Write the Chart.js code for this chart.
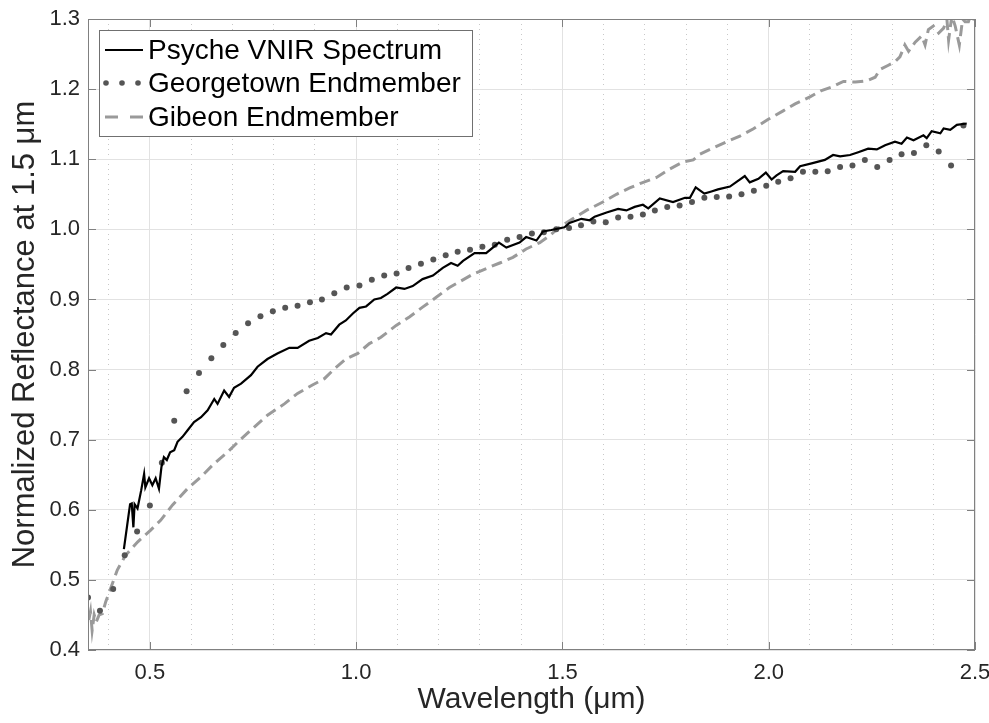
<!DOCTYPE html>
<html>
<head>
<meta charset="utf-8">
<script src="https://cdn.jsdelivr.net/npm/chart.js@4.4.1/dist/chart.umd.min.js"></script>
<style>
  html, body { margin: 0; padding: 0; background: #fff; }
</style>
</head>
<body>
<canvas id="spectra" width="989" height="723"></canvas>
<script>
// Psyche VNIR spectrum (solid black)
var psycheX = [0.437, 0.445, 0.452, 0.456, 0.460, 0.463, 0.470, 0.479, 0.486, 0.489, 0.498, 0.506, 0.514, 0.522, 0.528, 0.534, 0.541, 0.549, 0.559, 0.567,
    0.579, 0.591, 0.607, 0.624, 0.640, 0.656, 0.664, 0.680, 0.692, 0.704, 0.721, 0.745, 0.761, 0.785, 0.809, 0.838, 0.858, 0.886, 0.907, 0.927,
    0.939, 0.959, 0.975, 0.992, 1.008, 1.024, 1.044, 1.060, 1.076, 1.097, 1.117, 1.137, 1.161, 1.186, 1.210, 1.230, 1.246, 1.259, 1.287, 1.315,
    1.346, 1.364, 1.396, 1.412, 1.437, 1.453, 1.473, 1.505, 1.517, 1.546, 1.566, 1.578, 1.607, 1.635, 1.655, 1.675, 1.695, 1.708, 1.736, 1.768,
    1.797, 1.809, 1.823, 1.844, 1.861, 1.877, 1.906, 1.942, 1.954, 1.975, 1.993, 2.007, 2.019, 2.035, 2.064, 2.076, 2.104, 2.136, 2.156, 2.173,
    2.197, 2.217, 2.241, 2.262, 2.282, 2.306, 2.322, 2.335, 2.351, 2.375, 2.383, 2.395, 2.416, 2.424, 2.440, 2.456, 2.480];
var psycheY = [0.544, 0.578, 0.608, 0.609, 0.575, 0.608, 0.602, 0.628, 0.651, 0.632, 0.645, 0.635, 0.645, 0.630, 0.661, 0.675, 0.671, 0.682, 0.685, 0.697,
    0.704, 0.713, 0.725, 0.732, 0.742, 0.758, 0.751, 0.770, 0.761, 0.774, 0.780, 0.792, 0.804, 0.815, 0.823, 0.831, 0.831, 0.841, 0.845, 0.852,
    0.850, 0.864, 0.870, 0.880, 0.888, 0.890, 0.900, 0.902, 0.908, 0.917, 0.915, 0.919, 0.929, 0.934, 0.945, 0.952, 0.948, 0.955, 0.966, 0.966,
    0.981, 0.974, 0.981, 0.989, 0.984, 0.997, 0.999, 1.003, 1.009, 1.015, 1.013, 1.018, 1.024, 1.029, 1.027, 1.032, 1.035, 1.030, 1.044, 1.039,
    1.045, 1.045, 1.060, 1.051, 1.054, 1.057, 1.061, 1.076, 1.067, 1.072, 1.081, 1.071, 1.077, 1.083, 1.082, 1.090, 1.094, 1.099, 1.106, 1.104,
    1.106, 1.110, 1.115, 1.114, 1.120, 1.125, 1.122, 1.131, 1.127, 1.134, 1.130, 1.140, 1.137, 1.144, 1.142, 1.149, 1.151];

// Georgetown endmember (dots)
var georgetownX = [0.350, 0.379, 0.411, 0.439, 0.469, 0.500, 0.529, 0.559, 0.589, 0.619, 0.649, 0.678, 0.708, 0.738, 0.768, 0.798, 0.828, 0.858, 0.888, 0.917,
    0.947, 0.977, 1.008, 1.038, 1.068, 1.098, 1.127, 1.157, 1.187, 1.217, 1.246, 1.276, 1.306, 1.336, 1.366, 1.396, 1.426, 1.455, 1.485, 1.516,
    1.545, 1.575, 1.605, 1.635, 1.665, 1.695, 1.724, 1.754, 1.784, 1.814, 1.844, 1.874, 1.904, 1.934, 1.964, 1.994, 2.023, 2.053, 2.083, 2.113,
    2.143, 2.173, 2.203, 2.233, 2.263, 2.293, 2.322, 2.352, 2.382, 2.412, 2.442, 2.472];
var georgetownY = [0.475, 0.456, 0.487, 0.535, 0.569, 0.606, 0.667, 0.727, 0.769, 0.795, 0.816, 0.835, 0.852, 0.866, 0.876, 0.883, 0.888, 0.891, 0.896, 0.900,
    0.909, 0.917, 0.920, 0.928, 0.934, 0.937, 0.945, 0.951, 0.957, 0.963, 0.968, 0.971, 0.975, 0.978, 0.985, 0.989, 0.994, 0.996, 1.000, 1.002,
    1.006, 1.011, 1.010, 1.017, 1.018, 1.021, 1.027, 1.032, 1.034, 1.039, 1.045, 1.046, 1.047, 1.050, 1.055, 1.062, 1.068, 1.073, 1.082, 1.082,
    1.083, 1.089, 1.091, 1.099, 1.089, 1.099, 1.107, 1.109, 1.120, 1.111, 1.091, 1.148];

// Gibeon endmember (dashed grey)
var gibeonX = [0.352, 0.356, 0.360, 0.365, 0.370, 0.377, 0.385, 0.393, 0.405, 0.421, 0.441, 0.470, 0.502, 0.526, 0.555, 0.591, 0.624, 0.656, 0.688, 0.721,
    0.753, 0.785, 0.826, 0.858, 0.894, 0.923, 0.947, 0.975, 1.004, 1.032, 1.060, 1.097, 1.129, 1.161, 1.194, 1.226, 1.250, 1.283, 1.323, 1.348,
    1.380, 1.412, 1.445, 1.469, 1.493, 1.525, 1.558, 1.598, 1.631, 1.663, 1.691, 1.728, 1.760, 1.792, 1.817, 1.833, 1.865, 1.898, 1.930, 1.962,
    1.999, 2.035, 2.064, 2.100, 2.128, 2.153, 2.181, 2.210, 2.238, 2.258, 2.270, 2.290, 2.306, 2.318, 2.330, 2.339, 2.355, 2.371, 2.379, 2.387,
    2.399, 2.412, 2.424, 2.432, 2.436, 2.444, 2.452, 2.462, 2.470, 2.476, 2.484, 2.492, 2.498];
var gibeonY = [0.443, 0.455, 0.428, 0.450, 0.440, 0.450, 0.452, 0.469, 0.488, 0.514, 0.535, 0.554, 0.571, 0.585, 0.607, 0.630, 0.647, 0.666, 0.682, 0.701,
    0.718, 0.735, 0.751, 0.766, 0.778, 0.787, 0.801, 0.815, 0.823, 0.837, 0.846, 0.863, 0.875, 0.889, 0.903, 0.917, 0.925, 0.936, 0.946, 0.952,
    0.960, 0.972, 0.981, 0.991, 1.003, 1.015, 1.027, 1.039, 1.050, 1.059, 1.066, 1.074, 1.086, 1.096, 1.099, 1.107, 1.116, 1.125, 1.133, 1.143,
    1.157, 1.169, 1.179, 1.189, 1.198, 1.203, 1.211, 1.210, 1.212, 1.217, 1.228, 1.234, 1.239, 1.246, 1.263, 1.254, 1.267, 1.276, 1.263, 1.285,
    1.290, 1.280, 1.287, 1.299, 1.270, 1.305, 1.290, 1.263, 1.300, 1.296, 1.296, 1.310, 1.298];

// Axis ticks
var xTicks = [0.5, 1.0, 1.5, 2.0, 2.5];
var xMinorTicks = [0.4, 0.6, 0.7, 0.8, 0.9, 1.1, 1.2, 1.3, 1.4, 1.6, 1.7, 1.8, 1.9, 2.1, 2.2, 2.3, 2.4];
var yTicks = [0.4, 0.5, 0.6, 0.7, 0.8, 0.9, 1.0, 1.1, 1.2, 1.3];

var legendLabels = ['Psyche VNIR Spectrum', 'Georgetown Endmember', 'Gibeon Endmember'];

function toPoints(xs, ys) {
    var pts = [];
    for (var i = 0; i < xs.length; i++) pts.push({x: xs[i], y: ys[i]});
    return pts;
}

function setTicks(list) {
    return function(scale) {
        scale.ticks = list.map(function(v) { return {value: v}; });
    };
}

// no extra room for labels hanging over the plot edges
function fixSize(w, h) {
    return function(scale) {
        if (w !== null) scale.width = w;
        if (h !== null) scale.height = h;
        scale.paddingLeft = 0;
        scale.paddingRight = 0;
        scale.paddingTop = 0;
        scale.paddingBottom = 0;
    };
}

var FONT = "'Liberation Sans', Arial, Helvetica, sans-serif";
var TEXT = '#262626';

// box round the axes, inward tick marks and the legend inside the plot
var axesBox = {
    id: 'axesBox',
    afterDraw: function(chart) {
        var ctx = chart.ctx;
        var a = chart.chartArea;
        var xs = chart.scales.x, ys = chart.scales.y;
        ctx.save();
        ctx.strokeStyle = '#808080';
        ctx.lineWidth = 1;
        ctx.strokeRect(a.left + 0.5, a.top + 0.5, a.right - a.left - 1, a.bottom - a.top - 1);
        ctx.beginPath();
        xTicks.forEach(function(v) {
            var px = Math.round(xs.getPixelForValue(v)) + 0.5;
            ctx.moveTo(px, a.bottom); ctx.lineTo(px, a.bottom - 8);
            ctx.moveTo(px, a.top); ctx.lineTo(px, a.top + 8);
        });
        yTicks.forEach(function(v) {
            var py = Math.round(ys.getPixelForValue(v)) + 0.5;
            ctx.moveTo(a.left, py); ctx.lineTo(a.left + 8, py);
            ctx.moveTo(a.right, py); ctx.lineTo(a.right - 8, py);
        });
        ctx.stroke();

        // legend
        var bx = a.left + 11, by = a.top + 11, bw = 373, bh = 106;
        ctx.fillStyle = '#fff';
        ctx.fillRect(bx, by, bw, bh);
        ctx.strokeStyle = '#707070';
        ctx.strokeRect(bx + 0.5, by + 0.5, bw, bh);
        ctx.font = '28px ' + FONT;
        ctx.textBaseline = 'middle';
        var rowY = [by + 20, by + 53, by + 87];
        var sx = bx + 6, ex = bx + 44;
        // solid
        ctx.strokeStyle = '#000';
        ctx.lineWidth = 2;
        ctx.beginPath(); ctx.moveTo(sx, rowY[0]); ctx.lineTo(ex, rowY[0]); ctx.stroke();
        // dots
        ctx.fillStyle = '#555555';
        [sx + 1, sx + 17, sx + 33].forEach(function(dx) {
            ctx.beginPath(); ctx.arc(dx, rowY[1], 2.8, 0, Math.PI * 2); ctx.fill();
        });
        // dashes
        ctx.strokeStyle = '#9a9a9a';
        ctx.lineWidth = 3;
        ctx.beginPath();
        ctx.moveTo(sx, rowY[2]); ctx.lineTo(sx + 13, rowY[2]);
        ctx.moveTo(sx + 25, rowY[2]); ctx.lineTo(ex, rowY[2]);
        ctx.stroke();
        ctx.fillStyle = '#000';
        legendLabels.forEach(function(t, i) {
            ctx.fillText(t, bx + 49, rowY[i] + 1);
        });
        ctx.restore();
    }
};

var ctx = document.getElementById('spectra').getContext('2d');
var chart = new Chart(ctx, {
    type: 'scatter',
    data: {
        datasets: [{
            label: legendLabels[2],
            data: toPoints(gibeonX, gibeonY),
            showLine: true,
            borderColor: '#9a9a9a',
            borderWidth: 3,
            borderDash: [11, 6],
            pointRadius: 0,
            order: 3
        }, {
            label: legendLabels[1],
            data: toPoints(georgetownX, georgetownY),
            showLine: false,
            pointRadius: 3,
            pointBackgroundColor: '#555555',
            pointBorderWidth: 0,
            order: 2
        }, {
            label: legendLabels[0],
            data: toPoints(psycheX, psycheY),
            showLine: true,
            borderColor: '#000',
            borderWidth: 2.2,
            pointRadius: 0,
            order: 1
        }]
    },
    options: {
        responsive: false,
        animation: false,
        layout: { padding: { top: 19, right: 14, left: 0, bottom: 0 } },
        plugins: {
            legend: { display: false },
            tooltip: { enabled: false }
        },
        scales: {
            xMinor: {
                type: 'linear',
                position: 'bottom',
                min: 0.35,
                max: 2.5,
                afterBuildTicks: setTicks(xMinorTicks),
                afterFit: fixSize(null, 0),
                ticks: { display: false },
                grid: { color: '#c8c8c8', drawTicks: false, lineWidth: 1 },
                border: { display: false, dash: [1, 4] }
            },
            x: {
                type: 'linear',
                position: 'bottom',
                min: 0.35,
                max: 2.5,
                afterBuildTicks: setTicks(xTicks),
                afterFit: fixSize(null, 73),
                ticks: {
                    padding: 10,
                    color: TEXT,
                    font: { family: FONT, size: 22 },
                    callback: function(v) { return v.toFixed(1); }
                },
                grid: { color: '#e2e2e2', drawTicks: false },
                border: { display: false },
                title: {
                    display: true,
                    text: 'Wavelength (μm)',
                    color: TEXT,
                    font: { family: FONT, size: 30 },
                    padding: { top: 0, bottom: 5 }
                }
            },
            y: {
                type: 'linear',
                min: 0.4,
                max: 1.3,
                afterBuildTicks: setTicks(yTicks),
                afterFit: fixSize(88, null),
                ticks: {
                    padding: 8,
                    color: TEXT,
                    font: { family: FONT, size: 22 },
                    callback: function(v) { return v.toFixed(1); }
                },
                grid: { color: '#e2e2e2', drawTicks: false },
                border: { display: false },
                title: {
                    display: true,
                    text: 'Normalized Reflectance at 1.5 μm',
                    color: TEXT,
                    font: { family: FONT, size: 31 },
                    padding: { top: 7, bottom: 0 }
                }
            }
        }
    },
    plugins: [axesBox]
});
</script>
</body>
</html>
